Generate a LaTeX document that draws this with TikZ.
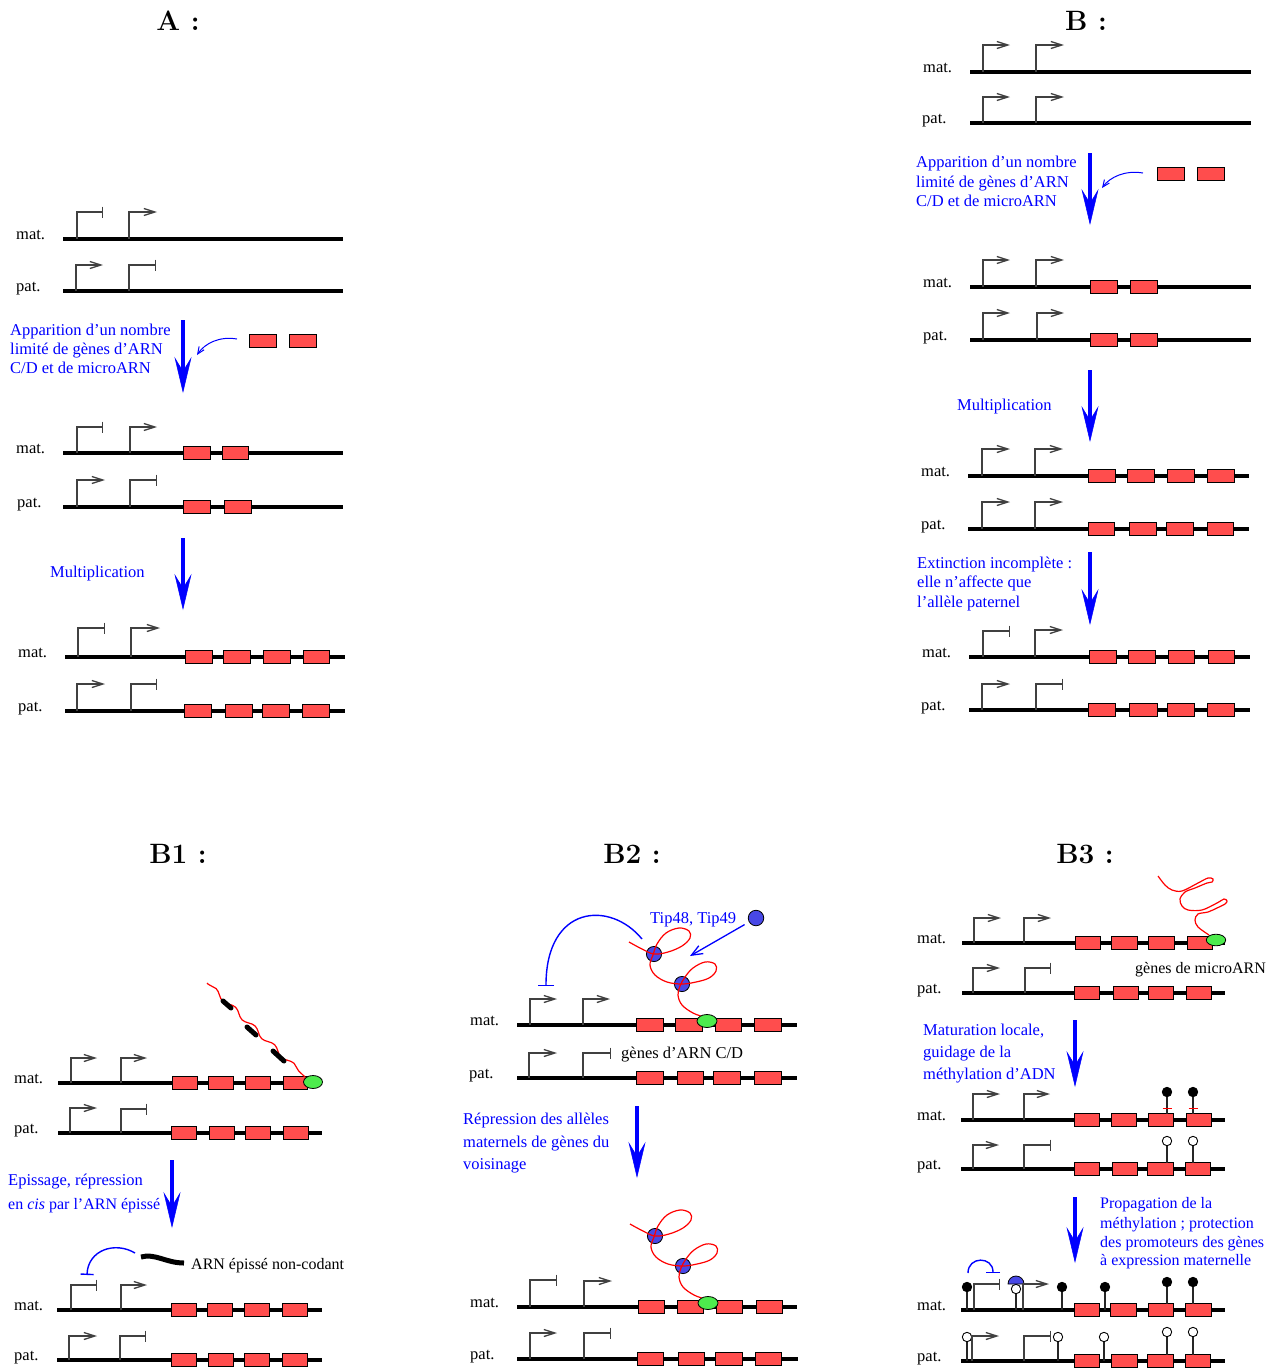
\documentclass[tikz,border=0pt]{standalone}
\usepackage{fontspec}
\newfontfamily\tnr{Liberation Serif}
\usetikzlibrary{arrows.meta,decorations.pathmorphing}
\definecolor{genered}{RGB}{255,77,77}
\definecolor{capgreen}{RGB}{77,235,77}
\definecolor{tipblue}{RGB}{72,72,230}

\tikzset{
  dna/.style={line width=3.6pt},
  gene/.style={draw=black, fill=genered, line width=1pt},
  prom/.style={line width=1.3pt, draw=black!75},
  promon/.style={-{Straight Barb[length=11pt,width=7pt]}},
  promoff/.style={-{Bar[width=11pt]}},
  lab/.style={font=\tnr\fontsize{16.5}{20}\selectfont, anchor=base west, inner sep=0pt},
  smalllab/.style={lab, font=\tnr\fontsize{16}{19}\selectfont},
  note/.style={lab, text=blue},
  smallnote/.style={note, font=\tnr\fontsize{16}{19}\selectfont},
  title/.style={font=\bfseries\fontsize{28}{30}\selectfont, anchor=base, inner sep=0pt},
  bigarrow/.style={blue, line width=4pt, -{Stealth[length=36pt,width=17pt,inset=14pt,line width=0.5pt]}},
  smallarrow/.style={blue, line width=1pt, -{Straight Barb[length=7pt,width=6pt]}},
  tiparrow/.style={blue, line width=1.3pt, -{Straight Barb[length=11pt,width=9pt]}},
  inhibit/.style={blue, line width=1.4pt},
  rna/.style={red, line width=1.2pt},
  capsule/.style={draw=black, fill=capgreen, line width=0.8pt},
  tipdot/.style={circle, draw=black, fill=tipblue, minimum size=15.5pt, inner sep=0pt, line width=0.8pt},
  stem/.style={line width=1.2pt, draw=black!85},
}

% DNA strand: x0, x1, y
\newcommand\strand[3]{\draw[dna] (#1,#3) -- (#2,#3);}
% gene box: x0, x1, y of the strand
\newcommand\gene[3]{\draw[gene] (#1,#3-6.5) rectangle (#2,#3+6.5);}
% promoter, active / silenced: x, strand y, top y, end x
\newcommand\pon[4]{\draw[prom,promon] (#1,#2) |- (#4,#3);}
\newcommand\poff[4]{\draw[prom,promoff] (#1,#2) |- (#4,#3);}
% process arrow: name, x, y start, y end
\newcommand\steparrow[4]{\coordinate (#1s) at (#2,#3); \coordinate (#1e) at (#2,#4); \draw[bigarrow] (#1s) -- (#1e);}
% methylation mark: x, head y, base y, fill colour
\newcommand\lolli[4]{\draw[stem] (#1,#3) -- (#1,#2); \filldraw[fill=#4, draw=black, line width=0.9pt] (#1,#2) circle[radius=4.7];}
% C/D snoRNA with its two bound proteins
\newcommand\snoloops{%
  \fill[tipblue, draw=black, line width=0.8pt] (654,954) circle[radius=7.6];
  \fill[tipblue, draw=black, line width=0.8pt] (682,984) circle[radius=7.6];
  \draw[rna] plot[smooth, tension=0.6] coordinates {(629,942) (642,949) (654,954) (668,952) (682,946) (690,938) (689,931) (679,928) (666,933) (657,944) (653,955) (650,965) (655,975) (667,982) (682,984) (696,982) (709,978) (716,971) (715,964) (705,962) (693,968) (685,977) (680,986) (678,995) (682,1005) (693,1013) (704,1017)};
}

\begin{document}
\begin{tikzpicture}[x=1pt, y=-1pt]
\useasboundingbox (0,0) rectangle (1282,1369);
\fill[white] (0,0) rectangle (1282,1369);

% ---------------- A ----------------
\node[title] (tA) at (178,30) {A :};

\strand{63}{343}{239}
\poff{77}{239}{212}{103}
\pon{129}{239}{212}{157}
\node[lab] (Amat1) at (16,239) {mat.};
\strand{63}{343}{291}
\pon{76}{291}{265}{103}
\poff{129}{291}{265}{156}
\node[lab] (Apat1) at (16,291) {pat.};

\node[note] (Aa1) at (10,335) {Apparition d’un nombre};
\node[note] (Aa2) at (10,354) {limité de gènes d’ARN};
\node[note] (Aa3) at (10,373) {C/D et de microARN};
\steparrow{Aarr1}{183}{320}{393}
\gene{249}{276}{341}
\gene{289}{316}{341}
\coordinate (Anew) at (237,339);
\coordinate (Aint) at (197,355);
\draw[smallarrow] (Anew) .. controls (220,336) and (205,343) .. (Aint);

\strand{63}{343}{453}
\gene{183}{210}{453} \gene{222}{248}{453}
\poff{77}{453}{427}{103}
\pon{130}{453}{427}{157}
\node[lab] (Amat2) at (16,453) {mat.};
\strand{63}{343}{507}
\gene{183}{210}{507} \gene{224}{251}{507}
\pon{77}{507}{480}{105}
\poff{130}{507}{480}{157}
\node[lab] (Apat2) at (17,507) {pat.};

\node[note] (Amult) at (50,577) {Multiplication};
\steparrow{Aarr2}{183}{538}{610}

\strand{65}{345}{657}
\gene{185}{212}{657} \gene{223}{250}{657} \gene{263}{290}{657} \gene{303}{329}{657}
\poff{78}{657}{628}{105}
\pon{131}{657}{628}{160}
\node[lab] (Amat3) at (18,657) {mat.};
\strand{65}{345}{711}
\gene{184}{211}{711} \gene{225}{252}{711} \gene{262}{289}{711} \gene{302}{329}{711}
\pon{77}{711}{684}{105}
\poff{131}{711}{684}{157}
\node[lab] (Apat3) at (18,711) {pat.};

% ---------------- B ----------------
\node[title] (tB) at (1086,30) {B :};

\strand{970}{1251}{72}
\pon{983}{72}{45}{1010}
\pon{1036}{72}{45}{1064}
\node[lab] (Bmat1) at (923,72) {mat.};
\strand{970}{1251}{123}
\pon{983}{123}{97}{1010}
\pon{1036}{123}{97}{1064}
\node[lab] (Bpat1) at (922,123) {pat.};

\node[note] (Ba1) at (916,167) {Apparition d’un nombre};
\node[note] (Ba2) at (916,187) {limité de gènes d’ARN};
\node[note] (Ba3) at (916,206) {C/D et de microARN};
\steparrow{Barr1}{1090}{153}{225}
\gene{1157}{1184}{174}
\gene{1197}{1224}{174}
\coordinate (Bnew) at (1143,173);
\coordinate (Bint) at (1102,188);
\draw[smallarrow] (Bnew) .. controls (1125,170) and (1110,177) .. (Bint);

\strand{970}{1251}{287}
\gene{1090}{1117}{287} \gene{1130}{1157}{287}
\pon{983}{287}{260}{1010}
\pon{1036}{287}{260}{1064}
\node[lab] (Bmat2) at (923,287) {mat.};
\strand{970}{1251}{340}
\gene{1090}{1117}{340} \gene{1130}{1157}{340}
\pon{983}{340}{313}{1010}
\pon{1037}{340}{313}{1064}
\node[lab] (Bpat2) at (923,340) {pat.};

\node[note] (Bmult) at (957,410) {Multiplication};
\steparrow{Barr2}{1090}{370}{442}

\strand{968}{1249}{476}
\gene{1088}{1115}{476} \gene{1127}{1154}{476} \gene{1167}{1194}{476} \gene{1207}{1234}{476}
\pon{982}{476}{449}{1010}
\pon{1035}{476}{449}{1063}
\node[lab] (Bmat3) at (921,476) {mat.};
\strand{968}{1249}{529}
\gene{1088}{1114}{529} \gene{1129}{1156}{529} \gene{1166}{1193}{529} \gene{1207}{1233}{529}
\pon{982}{529}{502}{1010}
\pon{1035}{529}{502}{1063}
\node[lab] (Bpat3) at (921,529) {pat.};

\node[note] (Be1) at (917,568) {Extinction incomplète :};
\node[note] (Be2) at (917,587) {elle n’affecte que};
\node[note] (Be3) at (917,607) {l’allèle paternel};
\steparrow{Barr3}{1090}{552}{625}

\strand{969}{1250}{657}
\gene{1089}{1116}{657} \gene{1128}{1155}{657} \gene{1168}{1194}{657} \gene{1208}{1234}{657}
\poff{983}{657}{631}{1010}
\pon{1035}{657}{630}{1063}
\node[lab] (Bmat4) at (922,657) {mat.};
\strand{969}{1250}{710}
\gene{1088}{1115}{710} \gene{1129}{1157}{710} \gene{1167}{1194}{710} \gene{1207}{1234}{710}
\pon{982}{710}{684}{1010}
\poff{1036}{710}{684}{1063}
\node[lab] (Bpat4) at (921,710) {pat.};

% ---------------- B1 ----------------
\node[title] (tB1) at (178,863) {B1 :};

\strand{58}{322}{1083}
\gene{172}{197}{1083} \gene{208}{233}{1083} \gene{245}{270}{1083} \gene{283}{307}{1083}
\pon{71}{1083}{1058}{97}
\pon{121}{1083}{1058}{147}
\node[lab] (B1mat1) at (14,1083) {mat.};
% nascent transcript with its introns
\draw[rna, decorate, decoration={snake, segment length=27pt, amplitude=2.3pt, pre length=2pt, post length=3pt}] (207,983) -- (305,1077);
\draw[line width=5pt, line cap=round] (223,1001) -- (231,1008);
\draw[line width=5pt, line cap=round] (247,1027) -- (256,1035);
\draw[line width=5pt, line cap=round] (273,1051) -- (284,1061);
\draw[capsule] (313,1082) ellipse[x radius=9.5, y radius=6.5];
\strand{58}{322}{1133}
\gene{171}{196}{1133} \gene{209}{234}{1133} \gene{245}{270}{1133} \gene{283}{308}{1133}
\pon{70}{1133}{1108}{97}
\poff{121}{1133}{1109}{147}
\node[lab] (B1pat1) at (14,1133) {pat.};

\node[note] (B1e1) at (8,1185) {Epissage, répression};
\node[smallnote] (B1e2) at (8,1209) {en \textit{cis} par l’ARN épissé};
\steparrow{B1arr}{172}{1160}{1228}

\coordinate (B1rna) at (141,1257);
\draw[line width=5pt] (B1rna) .. controls (155,1253) and (166,1263) .. (184,1263);
\node[smalllab] (B1nc) at (191,1269) {ARN épissé non-codant};
\coordinate (B1from) at (135,1253);
\coordinate (B1to) at (87,1275);
\draw[inhibit, -{Bar[width=13pt]}] (B1from) .. controls (115,1241) and (88,1250) .. (B1to);

\strand{57}{322}{1310}
\gene{171}{196}{1310} \gene{207}{232}{1310} \gene{244}{269}{1310} \gene{282}{307}{1310}
\poff{71}{1310}{1285}{97}
\pon{121}{1310}{1285}{147}
\node[lab] (B1mat2) at (14,1310) {mat.};
\strand{57}{322}{1360}
\gene{171}{196}{1360} \gene{208}{233}{1360} \gene{244}{269}{1360} \gene{282}{307}{1360}
\pon{69}{1360}{1336}{97}
\poff{120}{1360}{1336}{146}
\node[lab] (B1pat2) at (14,1360) {pat.};

% ---------------- B2 ----------------
\node[title] (tB2) at (632,863) {B2 :};

\strand{517}{797}{1025}
\gene{636}{663}{1025} \gene{675}{702}{1025} \gene{715}{741}{1025} \gene{754}{781}{1025}
\pon{530}{1025}{999}{557}
\pon{583}{1025}{999}{610}
\node[lab] (B2mat1) at (470,1025) {mat.};
\snoloops
\draw[capsule] (707,1021) ellipse[x radius=10, y radius=6.5];

\node[tipdot] (tip) at (756,918) {};
\node[note] (tiplab) at (650,923) {Tip48, Tip49};
\coordinate (tipend) at (690,956);
\draw[tiparrow, shorten <=5pt] (tip) -- (tipend);
\coordinate (B2from) at (642,939);
\coordinate (B2to) at (546,986);
\draw[inhibit, -{Bar[width=16pt]}] (B2from) .. controls (610,900) and (546,905) .. (B2to);

\strand{517}{797}{1078}
\gene{636}{663}{1078} \gene{677}{703}{1078} \gene{713}{740}{1078} \gene{754}{781}{1078}
\pon{529}{1078}{1053}{557}
\poff{583}{1078}{1053}{611}
\node[lab] (B2pat1) at (469,1078) {pat.};
\node[lab] (cdlab) at (621,1058) {gènes d’ARN C/D};

\node[note] (B2r1) at (463,1124) {Répression des allèles};
\node[note] (B2r2) at (463,1147) {maternels de gènes du};
\node[note] (B2r3) at (463,1169) {voisinage};
\steparrow{B2arr}{637}{1106}{1178}

\strand{517}{797}{1307}
\gene{638}{664}{1307} \gene{677}{703}{1307} \gene{716}{742}{1307} \gene{756}{782}{1307}
\poff{530}{1307}{1280}{557}
\pon{584}{1307}{1281}{612}
\node[lab] (B2mat2) at (470,1307) {mat.};
\begin{scope}[shift={(1,282)}]
  \snoloops
\end{scope}
\draw[capsule] (708,1303) ellipse[x radius=10, y radius=6.5];
\strand{517}{798}{1359}
\gene{637}{663}{1359} \gene{678}{704}{1359} \gene{715}{742}{1359} \gene{755}{781}{1359}
\pon{530}{1359}{1333}{557}
\poff{584}{1359}{1333}{611}
\node[lab] (B2pat2) at (470,1359) {pat.};

% ---------------- B3 ----------------
\node[title] (tB3) at (1085,863) {B3 :};

\strand{962}{1225}{943}
\gene{1075}{1100}{943} \gene{1111}{1137}{943} \gene{1148}{1174}{943} \gene{1187}{1212}{943}
\pon{974}{943}{918}{1001}
\pon{1024}{943}{918}{1051}
\node[lab] (B3mat1) at (917,943) {mat.};
% primary microRNA transcript with its hairpins
\draw[rna] plot[smooth, tension=0.55] coordinates {(1158,876) (1165,885) (1172,890) (1182,891) (1198,883) (1208,878) (1213,879) (1212,882) (1207,883) (1195,888) (1185,892) (1180,899) (1182,906) (1188,910) (1202,910) (1217,903) (1224,899) (1227,901) (1225,904) (1217,908) (1208,912) (1198,914) (1195,920) (1198,927) (1209,935)};
\draw[capsule] (1216,940) ellipse[x radius=9.7, y radius=5.8];
\strand{962}{1225}{993}
\gene{1074}{1099}{993} \gene{1113}{1138}{993} \gene{1148}{1173}{993} \gene{1186}{1211}{993}
\pon{973}{993}{968}{1000}
\poff{1025}{993}{968}{1051}
\node[lab] (B3pat1) at (917,993) {pat.};
\node[smalllab] (milab) at (1135,973) {gènes de microARN};

\node[note] (B3m1) at (923,1035) {Maturation locale,};
\node[note] (B3m2) at (923,1057) {guidage de la};
\node[note] (B3m3) at (923,1079) {méthylation d’ADN};
\steparrow{B3arr1}{1075}{1020}{1087}

\strand{961}{1225}{1120}
\gene{1074}{1099}{1120} \gene{1111}{1136}{1120} \gene{1148}{1173}{1120} \gene{1186}{1211}{1120}
\pon{973}{1120}{1094}{1000}
\pon{1024}{1120}{1094}{1050}
\lolli{1167}{1092}{1113.5}{black}
\lolli{1193}{1092}{1113.5}{black}
\draw[red, line width=1pt] (1162.5,1108) -- (1171.5,1108);
\draw[red, line width=1pt] (1188.5,1108) -- (1197.5,1108);
\node[lab] (B3mat2) at (917,1120) {mat.};
\strand{961}{1225}{1169}
\gene{1074}{1099}{1169} \gene{1112}{1137}{1169} \gene{1147}{1173}{1169} \gene{1185}{1210}{1169}
\pon{973}{1169}{1145}{999}
\poff{1024}{1169}{1145}{1051}
\lolli{1167}{1141}{1162.5}{white}
\lolli{1193}{1141}{1162.5}{white}
\node[lab] (B3pat2) at (917,1169) {pat.};

\node[smallnote] (B3p1) at (1100,1208) {Propagation de la};
\node[smallnote] (B3p2) at (1100,1228) {méthylation ; protection};
\node[smallnote] (B3p3) at (1100,1247) {des promoteurs des gènes};
\node[smallnote] (B3p4) at (1100,1265) {à expression maternelle};
\steparrow{B3arr2}{1075}{1197}{1263}

\strand{961}{1225}{1310}
\gene{1074}{1099}{1310} \gene{1110}{1136}{1310} \gene{1148}{1173}{1310} \gene{1185}{1211}{1310}
\lolli{967}{1287}{1310}{black}
\poff{974}{1310}{1284}{1000}
\lolli{1016}{1289}{1310}{white}
\filldraw[fill=tipblue, draw=black, line width=0.8pt] (1008,1284) .. controls (1008,1279.6) and (1011.6,1276) .. (1016,1276) .. controls (1020.4,1276) and (1024,1279.6) .. (1024,1284) -- cycle;
\pon{1023}{1310}{1284}{1049}
\lolli{1062}{1287}{1310}{black}
\lolli{1105}{1287}{1310}{black}
\lolli{1167}{1282}{1303.5}{black}
\lolli{1193}{1282}{1303.5}{black}
\coordinate (B3from) at (968,1273);
\coordinate (B3to) at (993,1273);
\draw[inhibit, -{Bar[width=14pt]}] (B3from) .. controls (968,1256) and (993,1256) .. (B3to);
\node[lab] (B3mat3) at (917,1310) {mat.};
\strand{961}{1225}{1361}
\gene{1074}{1099}{1361} \gene{1111}{1137}{1361} \gene{1147}{1173}{1361} \gene{1185}{1210}{1361}
\lolli{967}{1337}{1361}{white}
\pon{972}{1361}{1336}{999}
\poff{1024}{1361}{1336}{1051}
\lolli{1058}{1337}{1361}{white}
\lolli{1104}{1337}{1361}{white}
\lolli{1167}{1332}{1354.5}{white}
\lolli{1193}{1332}{1354.5}{white}
\node[lab] (B3pat3) at (917,1361) {pat.};
\end{tikzpicture}
\end{document}
